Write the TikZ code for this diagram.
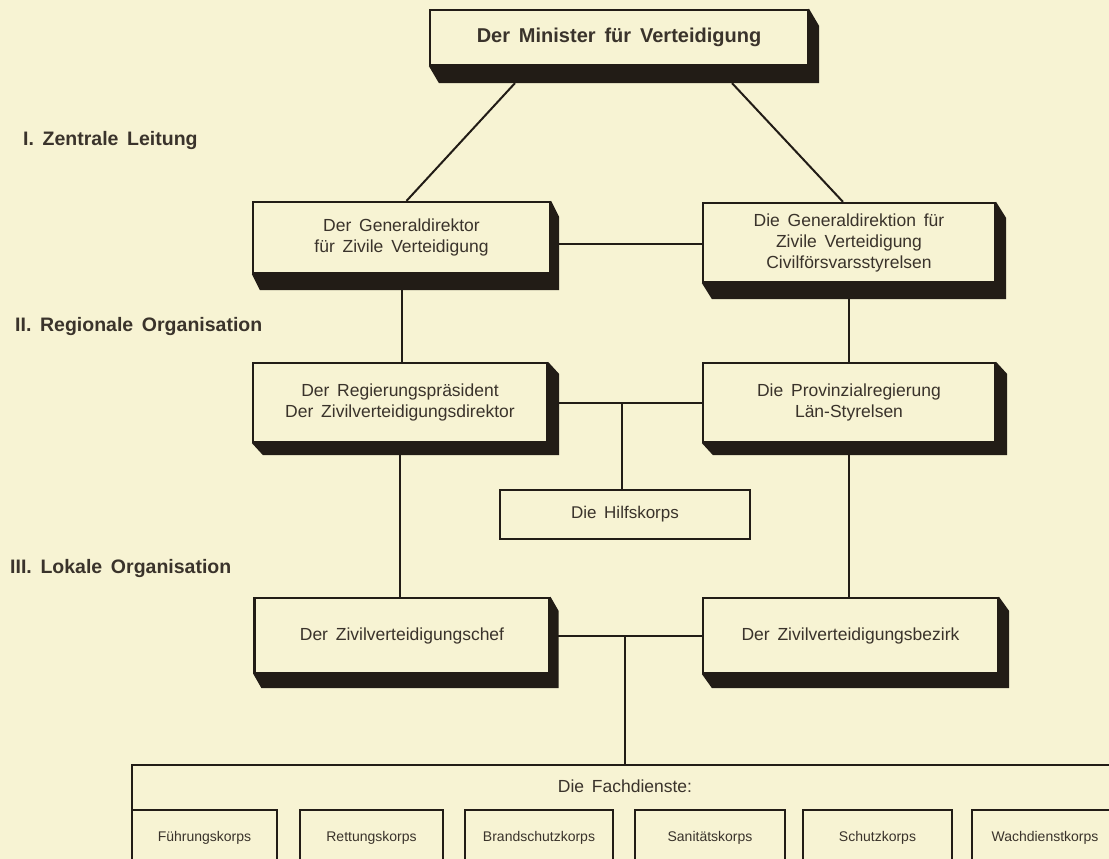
\documentclass[tikz,border=0pt]{standalone}
\usepackage{fontspec}
\setmainfont[WordSpace=1.6]{Liberation Sans}
\usetikzlibrary{calc}
\pgfdeclarelayer{bgl}
\pgfdeclarelayer{conn}
\pgfdeclarelayer{shade}
\pgfsetlayers{bgl,conn,shade,main}
\definecolor{paper}{HTML}{F7F3D3}
\definecolor{ink}{HTML}{221C16}
\definecolor{txt}{HTML}{3A332B}
\tikzset{
  box/.style={draw=ink, line width=2.2pt, fill=paper, align=center, text=txt,
    font=\fontsize{17.5}{21}\selectfont, inner sep=0pt},
  flatbox/.style={draw=ink, line width=2pt, fill=paper, text=txt,
    font=\fontsize{17}{20}\selectfont, inner sep=0pt},
  corps/.style={draw=ink, line width=2pt, fill=paper, text=txt,
    font=\fontsize{14}{16}\selectfont, inner sep=0pt, minimum height=56pt},
  conn/.style={draw=ink, line width=2pt},
  lvl/.style={anchor=west, text=txt, font=\bfseries\fontsize{19.5}{22}\selectfont, inner sep=0pt},
}
\newcommand\boxshade[3]{%
  \begin{pgfonlayer}{shade}
  \fill[ink] (#1.south west) -- ++(#2,#3) -- ($(#1.south east)+(#2,#3)$)
    -- ($(#1.north east)+(#2,#3)$) -- (#1.north east) -- cycle;
  \end{pgfonlayer}}
\begin{document}
\begin{tikzpicture}[x=1pt,y=-1pt]
\useasboundingbox (0,0) rectangle (1109,859);
\begin{pgfonlayer}{bgl}
\fill[paper] (0,0) rectangle (1109,859);
\end{pgfonlayer}
\clip (0,0) rectangle (1109,859);

% level labels
\node[lvl] (l1) at (23,141) {I. Zentrale Leitung};
\node[lvl] (l2) at (15,326) {II. Regionale Organisation};
\node[lvl] (l3) at (10,568) {III. Lokale Organisation};

% boxes
\node[box, font=\bfseries\fontsize{20}{24}\selectfont, minimum width=378pt, minimum height=55pt] (min) at (619,37.5) {Der Minister für Verteidigung};
\boxshade{min}{10}{17}

\node[box, minimum width=297pt, minimum height=71pt] (gd) at (401.5,237.5) {Der Generaldirektor\\für Zivile Verteidigung};
\boxshade{gd}{8}{16}

\node[box, minimum width=292pt, minimum height=79pt] (gdn) at (849,242.5) {Die Generaldirektion für\\Zivile Verteidigung\\Civilförsvarsstyrelsen};
\boxshade{gdn}{10}{16}

\node[box, minimum width=294pt, minimum height=79pt] (reg) at (400,402.5) {Der Regierungspräsident\\Der Zivilverteidigungsdirektor};
\boxshade{reg}{11}{12}

\node[box, minimum width=292pt, minimum height=79pt] (prov) at (849,402.5) {Die Provinzialregierung\\Län-Styrelsen};
\boxshade{prov}{11}{12}

\node[flatbox, minimum width=250pt, minimum height=49pt] (hilf) at (625,514.5) {Die Hilfskorps};

\node[box, minimum width=295pt, minimum height=75pt] (chef) at (402,635.5) {Der Zivilverteidigungschef};
\boxshade{chef}{8}{14}

\node[box, minimum width=295pt, minimum height=75pt] (bez) at (850.5,635.5) {Der Zivilverteidigungsbezirk};
\boxshade{bez}{10}{14}

% Fachdienste
\node[draw=ink, line width=2pt, fill=paper, minimum width=1000pt, minimum height=140pt, inner sep=0pt] (fach) at (632,835) {};
\node[text=txt, font=\fontsize{17.5}{20}\selectfont, inner sep=0pt] (fachlab) at (625,786) {Die Fachdienste:};
\node[corps, minimum width=145pt] (c1) at (204.5,838) {Führungskorps};
\node[corps, minimum width=143pt] (c2) at (371.5,838) {Rettungskorps};
\node[corps, minimum width=148pt] (c3) at (539,838) {Brandschutzkorps};
\node[corps, minimum width=150pt] (c4) at (710,838) {Sanitätskorps};
\node[corps, minimum width=149pt] (c5) at (877.5,838) {Schutzkorps};
\node[corps, minimum width=146pt] (c6) at (1045,838) {Wachdienstkorps};

% connectors
\begin{pgfonlayer}{conn}
\coordinate (minL) at ($(min.south)+(-104,17)$);
\coordinate (minR) at ($(min.south)+(113,17)$);
\draw[conn] (minL) -- ([xshift=5pt]gd.north);
\draw[conn] (minR) -- ([xshift=-6pt]gdn.north);
\draw[conn] (gd.center |- 0,244) -- (gdn.center |- 0,244);
\draw[conn] (gd.center) -- (gd.center |- reg.north);
\draw[conn] (gdn.center) -- (gdn.center |- prov.north);
\draw[conn] (reg.center) -- (prov.center);
\draw[conn] (reg.center -| 622,0) -- (hilf.north -| 622,0);
\draw[conn] (reg.center) -- (reg.center |- chef.north);
\draw[conn] (prov.center) -- (prov.center |- bez.north);
\draw[conn] (chef.center) -- (bez.center);
\draw[conn] (chef.center -| 625,0) -- (fach.north -| 625,0);
\end{pgfonlayer}
\end{tikzpicture}
\end{document}
